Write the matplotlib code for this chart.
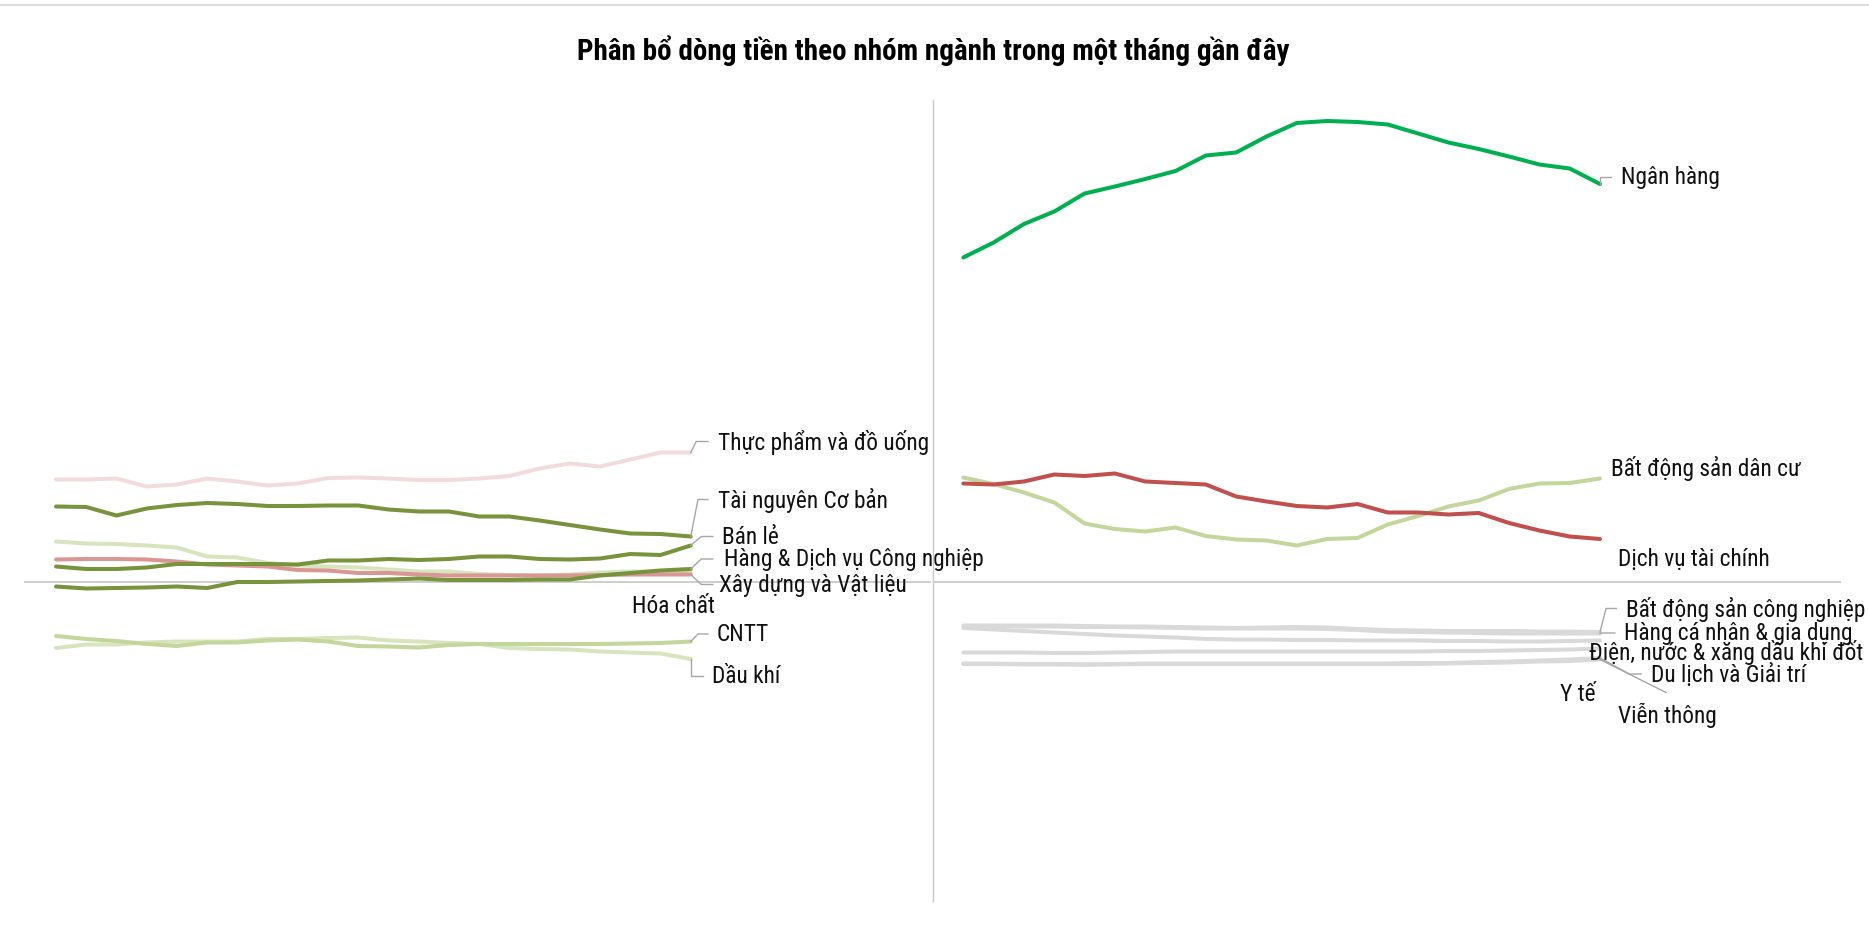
import numpy as np
import matplotlib
matplotlib.use("Agg")
import matplotlib.pyplot as plt
from matplotlib.lines import Line2D

plt.rcParams['font.family'] = ['Roboto Condensed', 'DejaVu Sans']

# ---- data: money-flow share by sector over the last 22 sessions ----
days = np.arange(22)

# left panel sectors
thuc_pham = [10.2, 10.2, 10.3, 9.5, 9.7, 10.3, 10.0, 9.6, 9.8, 10.35, 10.4,
             10.3, 10.15, 10.15, 10.3, 10.55, 11.3, 11.8, 11.5, 12.2, 12.9, 12.9]
tai_nguyen = [7.5, 7.45, 6.6, 7.3, 7.65, 7.85, 7.75, 7.55, 7.55, 7.6, 7.6,
              7.2, 7.0, 7.0, 6.5, 6.5, 6.1, 5.65, 5.2, 4.8, 4.75, 4.5]
ban_le = [1.5, 1.25, 1.25, 1.4, 1.75, 1.75, 1.75, 1.75, 1.7, 2.1, 2.1,
          2.25, 2.15, 2.25, 2.5, 2.5, 2.25, 2.2, 2.3, 2.75, 2.65, 3.6]
hang_dv_cn = [-0.5, -0.7, -0.65, -0.6, -0.5, -0.65, -0.05, -0.05, 0.0, 0.05, 0.1,
              0.2, 0.3, 0.15, 0.15, 0.15, 0.2, 0.2, 0.6, 0.85, 1.1, 1.25]
xay_dung = [2.2, 2.25, 2.25, 2.2, 2.0, 1.7, 1.6, 1.5, 1.15, 1.1, 0.85,
            0.85, 0.7, 0.6, 0.6, 0.6, 0.6, 0.6, 0.65, 0.7, 0.7, 0.7]
hoa_chat = [4.0, 3.8, 3.75, 3.6, 3.4, 2.5, 2.4, 1.85, 1.6, 1.5, 1.4,
            1.2, 1.0, 1.0, 0.75, 0.65, 0.6, 0.7, 0.9, 1.0, 0.95, 0.9]
cntt = [-5.45, -5.75, -5.95, -6.25, -6.45, -6.1, -6.1, -5.9, -5.8, -6.0, -6.45,
        -6.5, -6.6, -6.35, -6.25, -6.25, -6.25, -6.25, -6.25, -6.2, -6.15, -6.0]
dau_khi = [-6.65, -6.3, -6.3, -6.1, -6.0, -6.0, -6.0, -5.75, -5.75, -5.65, -5.6,
           -5.9, -6.0, -6.15, -6.25, -6.65, -6.75, -6.8, -7.0, -7.1, -7.2, -7.75]

# right panel sectors
ngan_hang = [32.4, 33.9, 35.75, 37.0, 38.8, 39.5, 40.25, 41.05, 42.6, 42.9, 44.5,
             45.85, 46.05, 45.95, 45.7, 44.8, 43.9, 43.25, 42.5, 41.7, 41.3, 39.75]
dich_vu_tc = [9.8, 9.7, 10.0, 10.7, 10.55, 10.8, 10.0, 9.85, 9.7, 8.5, 8.0,
              7.55, 7.4, 7.75, 6.9, 6.9, 6.7, 6.85, 5.85, 5.1, 4.5, 4.25]
bds_dan_cu = [10.4, 9.75, 8.9, 7.9, 5.8, 5.25, 5.0, 5.4, 4.55, 4.2, 4.1,
              3.6, 4.25, 4.35, 5.7, 6.55, 7.5, 8.1, 9.25, 9.8, 9.85, 10.3]
bds_cong_nghiep = [-4.4, -4.4, -4.4, -4.4, -4.45, -4.5, -4.5, -4.55, -4.6, -4.65, -4.6,
                   -4.55, -4.6, -4.75, -4.85, -4.9, -4.95, -4.95, -4.95, -5.0, -5.0, -5.05]
hang_ca_nhan = [-4.45, -4.45, -4.5, -4.5, -4.55, -4.55, -4.6, -4.65, -4.7, -4.7, -4.7,
                -4.7, -4.75, -4.85, -5.0, -5.05, -5.1, -5.15, -5.2, -5.2, -5.2, -5.2]
dien_nuoc = [-4.65, -4.8, -4.95, -5.1, -5.25, -5.4, -5.5, -5.6, -5.75, -5.8, -5.8,
             -5.85, -5.85, -5.9, -5.9, -5.9, -5.95, -5.95, -6.0, -6.0, -5.95, -5.9]
y_te = [-7.1, -7.1, -7.1, -7.15, -7.15, -7.1, -7.05, -7.0, -7.0, -7.0, -7.0,
        -7.0, -7.0, -7.0, -7.0, -7.0, -6.95, -6.95, -6.9, -6.85, -6.8, -6.7]
du_lich = [-8.2, -8.2, -8.25, -8.25, -8.3, -8.25, -8.2, -8.2, -8.2, -8.2, -8.2,
           -8.2, -8.2, -8.2, -8.2, -8.15, -8.15, -8.05, -8.0, -7.9, -7.8, -7.65]
vien_thong = [-8.25, -8.25, -8.3, -8.3, -8.3, -8.3, -8.25, -8.25, -8.25, -8.25, -8.25,
              -8.25, -8.25, -8.25, -8.25, -8.25, -8.2, -8.15, -8.1, -8.0, -7.95, -7.8]

left_names = ["Thực phẩm và đồ uống", "Dầu khí", "CNTT", "Hóa chất", "Xây dựng và Vật liệu",
              "Tài nguyên Cơ bản", "Bán lẻ", "Hàng & Dịch vụ Công nghiệp"]
left_values = [thuc_pham, dau_khi, cntt, hoa_chat, xay_dung, tai_nguyen, ban_le, hang_dv_cn]
left_colors = ["#f2dcdb", "#d7e4bd", "#c3d69b", "#d7e4bd", "#da9694", "#77933c", "#77933c", "#77933c"]

right_names = ["Bất động sản công nghiệp", "Hàng cá nhân & gia dụng", "Điện, nước & xăng dầu khí đốt",
               "Y tế", "Du lịch và Giải trí", "Viễn thông",
               "Bất động sản dân cư", "Dịch vụ tài chính", "Ngân hàng"]
right_values = [bds_cong_nghiep, hang_ca_nhan, dien_nuoc, y_te, du_lich, vien_thong,
                bds_dan_cu, dich_vu_tc, ngan_hang]
right_colors = ["#d9d9d9"] * 6 + ["#c3d69b", "#c0504d", "#00b050"]

# ---- label layout: (label y, text x, leader kind, leader points, ha) ----
# leader kinds: 'elbow' -> (kink_x, end_x); 'diag' -> (end_x, end_y); None -> no leader
left_layout = {
    "Thực phẩm và đồ uống": (14.0, 21.9, 'elbow', (21.18, 21.57), 'left'),
    "Tài nguyên Cơ bản": (8.2, 21.9, 'elbow', (21.24, 21.57), 'left'),
    "Bán lẻ": (4.5, 22.05, 'elbow', (21.35, 21.73), 'left'),
    "Hàng & Dịch vụ Công nghiệp": (2.25, 22.1, 'elbow', (21.35, 21.73), 'left'),
    "Xây dựng và Vật liệu": (-0.3, 21.95, 'elbow', (21.35, 21.73), 'left'),
    "Hóa chất": (-2.4, 21.8, None, None, 'right'),
    "CNTT": (-5.25, 21.85, 'elbow', (21.24, 21.57), 'left'),
    "Dầu khí": (-9.4, 21.7, 'elbow', (21.0, 21.4), 'left'),
}
right_layout = {
    "Ngân hàng": (40.5, 21.7, 'elbow', (21.0, 21.38), 'left'),
    "Bất động sản dân cư": (11.4, 21.38, None, None, 'left'),
    "Dịch vụ tài chính": (2.3, 21.61, None, None, 'left'),
    "Bất động sản công nghiệp": (-2.7, 21.87, 'elbow', (21.2, 21.54), 'left'),
    "Hàng cá nhân & gia dụng": (-5.15, 21.78, 'elbow', (21.05, 21.49), 'left'),
    "Điện, nước & xăng dầu khí đốt": (-7.0, 20.65, None, None, 'left'),
    "Du lịch và Giải trí": (-9.25, 22.69, 'elbow', (21.97, 22.36), 'left'),
    "Y tế": (-11.25, 20.87, None, None, 'right'),
    "Viễn thông": (-13.25, 21.61, 'diag', (23.18, -11.1), 'left'),
}

W, H = 1869, 929
fig = plt.figure(figsize=(W / 100, H / 100), dpi=100)
fig.patch.set_facecolor("white")

# thin rule along the top edge
fig.add_artist(Line2D([0, 1], [1 - 6 / H, 1 - 6 / H], transform=fig.transFigure,
                      color="#dddddd", lw=1.5))

fig.text(0.4995, 1 - 59.5 / H, "Phân bổ dòng tiền theo nhóm ngành trong một tháng gần đây",
         ha="center", va="baseline", fontsize=21, fontweight="bold", color="black")

bottom = 1 - 902 / H
height = (902 - 101) / H
ax_l = fig.add_axes([24 / W, bottom, (931 - 24) / W, height])
ax_r = fig.add_axes([933 / W, bottom, (1841 - 933) / W, height])
ax_r.patch.set_visible(False)
ax_l.patch.set_visible(False)

LEADER = "#a6a6a6"
LABEL_FS = 16.8


def draw_panel(ax, names, values, colors, layout, xmin):
    ax.set_xlim(xmin, 28.95)
    ax.set_ylim(-31.95, 48.15)
    ax.axhline(0, color="#c0c0c0", lw=1.1, zorder=1)
    for name, vals, col in zip(names, values, colors):
        ax.plot(days, vals, color=col, lw=2.9, solid_capstyle="round",
                solid_joinstyle="round", zorder=2)
        ylab, xt, kind, pts, ha = layout[name]
        x_end, y_end = days[-1], vals[-1]
        if kind == 'elbow':
            ax.plot([x_end, pts[0], pts[1]], [y_end, ylab, ylab],
                    color=LEADER, lw=1.0, zorder=3)
        elif kind == 'diag':
            ax.plot([x_end, pts[0]], [y_end, pts[1]], color=LEADER, lw=1.0, zorder=3)
        ax.text(xt, ylab, name, ha=ha, va="center", fontsize=LABEL_FS,
                color="#111111", zorder=4, clip_on=False)
    ax.set_xticks([])
    ax.set_yticks([])
    for s in ax.spines.values():
        s.set_visible(False)


draw_panel(ax_l, left_names, left_values, left_colors, left_layout, -1.06)
draw_panel(ax_r, right_names, right_values, right_colors, right_layout, -1.0)

# divider between the two panels
ax_r.spines["left"].set_visible(True)
ax_r.spines["left"].set_color("#c8c8c8")
ax_r.spines["left"].set_linewidth(1.0)

fig.savefig("out.png", dpi=100, facecolor="white")
